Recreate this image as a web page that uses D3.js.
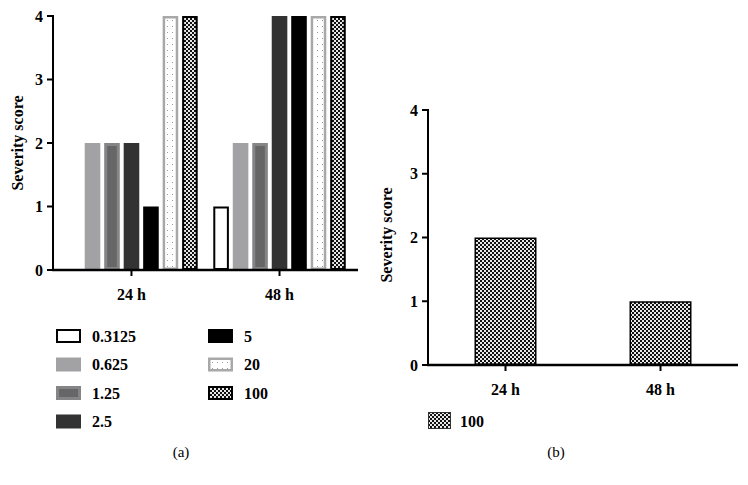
<!DOCTYPE html>
<html><head><meta charset="utf-8">
<script src="https://cdn.jsdelivr.net/npm/d3@7"></script>
<style>body{margin:0;background:#fff}svg{display:block}</style>
</head><body><svg id="c" width="748" height="485" font-family="Liberation Serif"></svg>
<script>
const timepoints = ["24 h", "48 h"];
const concentrations = ["0.3125", "0.625", "1.25", "2.5", "5", "20", "100"];
const scoresA = {
  "0.3125": [0, 1],
  "0.625": [2, 2],
  "1.25": [2, 2],
  "2.5": [2, 4],
  "5": [1, 4],
  "20": [4, 4],
  "100": [4, 4]
};
const scoresB = [2, 1];
const seriesB = "100";
const yTicks = [0, 1, 2, 3, 4];

const styles = {
  "0.3125": {fill: "#ffffff", stroke: "#000000", sw: 2},
  "0.625": {fill: "#a2a2a4", stroke: "#a2a2a4", sw: 0},
  "1.25": {fill: "#666666", stroke: "#858587", sw: 3},
  "2.5": {fill: "#333333", stroke: "#333333", sw: 0},
  "5": {fill: "#000000", stroke: "#000000", sw: 0},
  "20": {fill: "url(#dots)", stroke: "#a8a8a8", sw: 2.5},
  "100": {fill: "url(#checker)", stroke: "#000000", sw: 2}
};

const svg = d3.select("#c");
const defs = svg.append("defs");
const chk = defs.append("pattern").attr("id", "checker").attr("patternUnits", "userSpaceOnUse").attr("width", 4).attr("height", 4);
chk.append("rect").attr("width", 4).attr("height", 4).attr("fill", "#e8e8e8");
chk.append("rect").attr("width", 2).attr("height", 2).attr("fill", "#111");
chk.append("rect").attr("x", 2).attr("y", 2).attr("width", 2).attr("height", 2).attr("fill", "#111");
const dots = defs.append("pattern").attr("id", "dots").attr("patternUnits", "userSpaceOnUse").attr("width", 5).attr("height", 6);
dots.append("rect").attr("width", 5).attr("height", 6).attr("fill", "#fff");
dots.append("rect").attr("x", 2).attr("y", 2).attr("width", 1).attr("height", 1).attr("fill", "#9a9a9a");

const FF = "Liberation Serif";

function drawBar(g, x, y, w, h, st) {
  const s = st.sw;
  g.append("rect").attr("x", x + s / 2).attr("y", y + s / 2)
    .attr("width", Math.max(0, w - s)).attr("height", Math.max(0, h - s))
    .attr("fill", st.fill).attr("stroke", s ? st.stroke : "none").attr("stroke-width", s);
}

function txt(g, x, y, s, size, bold, anchor) {
  return g.append("text").attr("x", x).attr("y", y).attr("dy", "0.35em")
    .attr("font-family", FF).attr("font-size", size).attr("font-weight", bold ? "bold" : "normal")
    .attr("text-anchor", anchor || "start").text(s);
}

function axes(g, x, y, x0, x1, labelX, labelY) {
  g.append("line").attr("x1", x0).attr("x2", x0).attr("y1", y(4) - 1).attr("y2", y(0) + 1).attr("stroke", "#000").attr("stroke-width", 2);
  yTicks.forEach(t => {
    g.append("line").attr("x1", x0 - 6).attr("x2", x0).attr("y1", y(t)).attr("y2", y(t)).attr("stroke", "#000").attr("stroke-width", 2);
    txt(g, x0 - 10, y(t), t, 16, true, "end");
  });
  g.append("line").attr("x1", x0 - 1).attr("x2", x1).attr("y1", y(0)).attr("y2", y(0)).attr("stroke", "#000").attr("stroke-width", 2.5);
  timepoints.forEach(tp => {
    const cx = x(tp) + x.bandwidth() / 2;
    g.append("line").attr("x1", cx).attr("x2", cx).attr("y1", y(0)).attr("y2", y(0) + 6).attr("stroke", "#000").attr("stroke-width", 2);
    txt(g, cx, y(0) + 24, tp, 16, true, "middle");
  });
  g.append("text").attr("transform", `translate(${labelX},${labelY}) rotate(-90)`).attr("text-anchor", "middle")
    .attr("dy", "0.35em").attr("font-family", FF).attr("font-size", 16).attr("font-weight", "bold").text("Severity score");
}

// ---- Panel (a)
const gA = svg.append("g");
const yA = d3.scaleLinear().domain([0, 4]).range([270, 16]);
const xA = d3.scaleBand().domain(timepoints).range([53, 358]).paddingInner(0).paddingOuter(0.03);
const xA1 = d3.scaleBand().domain(concentrations).range([0, xA.bandwidth()]).paddingInner(0.2).paddingOuter(0.4);
timepoints.forEach((tp, i) => {
  concentrations.forEach(c => {
    const v = scoresA[c][i];
    if (v > 0) drawBar(gA, xA(tp) + xA1(c), yA(v), xA1.bandwidth(), yA(0) - yA(v), styles[c]);
  });
});
axes(gA, xA, yA, 53, 358, 17, 143);

const legCols = [concentrations.slice(0, 4), concentrations.slice(4)];
const legX = [56, 208];
legCols.forEach((col, ci) => {
  col.forEach((c, ri) => {
    const ly = 336 + ri * 28.5;
    drawBar(gA, legX[ci], ly - 7, 25, 14, styles[c]);
    txt(gA, legX[ci] + 36, ly, c, 16, true);
  });
});
txt(gA, 181, 452, "(a)", 15, false, "middle");

// ---- Panel (b)
const gB = svg.append("g");
const yB = d3.scaleLinear().domain([0, 4]).range([365, 110]);
const xB = d3.scaleBand().domain(timepoints).range([428, 738]).paddingInner(0.6).paddingOuter(0.3);
timepoints.forEach((tp, i) => {
  const v = scoresB[i];
  drawBar(gB, xB(tp), yB(v), xB.bandwidth(), yB(0) - yB(v), {fill: "url(#checker)", stroke: "#000", sw: 1.5});
});
axes(gB, xB, yB, 428, 738, 386, 235);
drawBar(gB, 428, 412, 23, 17, {fill: "url(#checker)", stroke: "#333", sw: 1});
txt(gB, 460, 421, seriesB, 16, true);
txt(gB, 556, 452, "(b)", 15, false, "middle");
</script></body></html>
